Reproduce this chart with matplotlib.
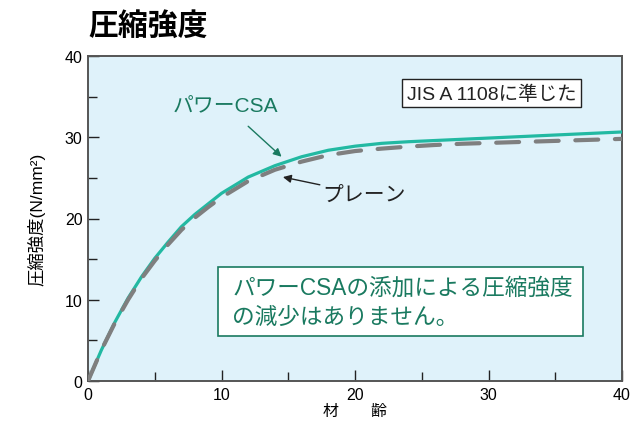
import matplotlib
matplotlib.use("Agg")
import matplotlib.pyplot as plt
from matplotlib.patches import Rectangle
from matplotlib.ticker import MultipleLocator

plt.rcParams['font.family'] = ['Liberation Sans', 'Noto Sans CJK JP', 'DejaVu Sans']

# 材齢 (days) and strength (N/mm2)
age = [0, 1, 2, 3, 4, 5, 6, 7, 8, 9, 10, 12, 14, 16, 18, 20, 22, 24, 26, 28, 30, 32, 34, 36, 38, 40]
csa = [0, 3.8, 7.2, 10.2, 12.8, 15.1, 17.1, 19.0, 20.5, 21.8, 23.1, 25.1, 26.5, 27.6, 28.4, 28.9,
       29.25, 29.45, 29.6, 29.75, 29.9, 30.05, 30.2, 30.35, 30.5, 30.65]
plain = [0, 3.8, 7.1, 10.0, 12.6, 14.8, 16.8, 18.6, 20.1, 21.4, 22.6, 24.6, 26.0, 27.0, 27.8, 28.3,
         28.6, 28.85, 29.05, 29.2, 29.3, 29.4, 29.5, 29.6, 29.7, 29.8]

teal = '#22b9a2'
green_txt = '#1a7a60'
spine = '#555555'

fig = plt.figure(figsize=(6.32, 4.27), dpi=100)
ax = fig.add_axes([88/632, 45/427, 534/632, 325/427])
ax.set_facecolor('#dff2fa')

ax.plot(age, csa, color=teal, lw=2.3, zorder=3)
ax.plot(age, plain, color='#7f7f7f', lw=3.0, dashes=(5.5, 4.0), dash_capstyle='round', zorder=4)

ax.set_xlim(0, 40)
ax.set_ylim(0, 40)
ax.xaxis.set_major_locator(MultipleLocator(10))
ax.xaxis.set_minor_locator(MultipleLocator(5))
ax.yaxis.set_major_locator(MultipleLocator(10))
ax.yaxis.set_minor_locator(MultipleLocator(5))
ax.tick_params(which='major', direction='in', length=8, width=1, color='#222222', labelsize=11.5, pad=4)
ax.tick_params(which='minor', direction='in', length=6.5, width=1, color='#222222')
for s in ax.spines.values():
    s.set_color(spine)
    s.set_linewidth(1.4)

ax.set_xlabel('材　　齢', fontsize=11.5, labelpad=1)
ax.set_ylabel('圧縮強度(N/mm²)', fontsize=12.5, labelpad=14)

fig.text(88/632, 1 - 26/427, '圧縮強度', fontsize=21.5, fontweight='bold', va='center', ha='left')

ax.annotate('パワーCSA', xy=(14.5, 27.6), xytext=(10.3, 33.9), fontsize=15, color=green_txt,
            ha='center', va='center',
            arrowprops=dict(arrowstyle='-|>', color=green_txt, lw=1, shrinkA=9, shrinkB=0,
                            mutation_scale=12))
ax.annotate('プレーン', xy=(14.6, 25.1), xytext=(20.7, 23.0), fontsize=15, color='#222222',
            ha='center', va='center',
            arrowprops=dict(arrowstyle='-|>', color='#222222', lw=1, shrinkA=34, shrinkB=0,
                            mutation_scale=12))

ax.text(36.6, 35.4, 'JIS A 1108に準じた', fontsize=14, ha='right', va='center', color='#222222',
        bbox=dict(boxstyle='square,pad=0.25', fc='white', ec='#222222', lw=1))

ax.add_patch(Rectangle((9.74, 5.54), 27.34, 8.49, fc='white', ec=green_txt, lw=1.2, zorder=5))
ax.text(10.8, 9.75, 'パワーCSAの添加による圧縮強度\nの減少はありません。', fontsize=16.3,
        color=green_txt, ha='left', va='center', linespacing=1.3, zorder=6)

fig.savefig('out.png', dpi=100)
